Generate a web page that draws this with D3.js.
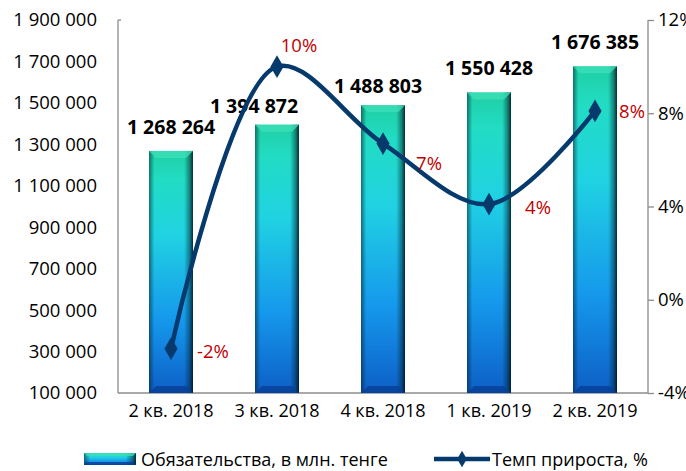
<!DOCTYPE html>
<html><head><meta charset="utf-8">
<script src="https://cdn.jsdelivr.net/npm/d3@7"></script>
<style>
html,body{margin:0;padding:0;background:#fff;}
svg{display:block;font-family:"Open Sans",sans-serif;}
</style></head>
<body>
<svg id="chart" width="686" height="471"></svg>
<script>
// ---- data ----
const categories = ["2 кв. 2018", "3 кв. 2018", "4 кв. 2018", "1 кв. 2019", "2 кв. 2019"];
const liabilities = [1268264, 1394872, 1488803, 1550428, 1676385];
const growthRate = [-2.1, 10.0, 6.7, 4.1, 8.1]; // %
const leftTicks = [100000, 300000, 500000, 700000, 900000, 1100000, 1300000, 1500000, 1700000, 1900000];
const rightTicks = [-4, 0, 4, 8, 12];
const seriesNames = ["Обязательства, в млн. тенге", "Темп прироста, %"];

// ---- layout (not data) ----
const M = {left: 118, right: 648, top: 20, bottom: 393};
const barLabelShift = [[0, -17], [-23, -12], [-5, -12], [0, -17.5], [0, -17]];
const pctLabelShift = [[42, 1.5], [22, -22], [46, 19], [49, 2.5], [37, 0]];

const svg = d3.select("#chart");
const loc = d3.formatLocale({decimal: ",", thousands: " ", grouping: [3], currency: ["", ""], minus: "-"});
const fmtNum = loc.format(",d");
const fmtPct = v => loc.format(".0f")(v) + "%";

const x = d3.scaleBand().domain(categories).range([M.left, M.right]).paddingInner(0.585).paddingOuter(0.2925);
const yL = d3.scaleLinear().domain([100000, 1900000]).range([M.bottom, M.top]);
const yR = d3.scaleLinear().domain([-4, 12]).range([M.bottom, M.top]);

// gradients
const defs = svg.append("defs");
const gV = defs.append("linearGradient").attr("id", "gV").attr("x1", 0).attr("y1", 0).attr("x2", 0).attr("y2", 1);
[[0, "#1ecfa4"], [0.12, "#22dcc4"], [0.35, "#20d2e2"], [0.7, "#1598ec"], [1, "#0d5fc6"]].forEach(s =>
  gV.append("stop").attr("offset", s[0]).attr("stop-color", s[1]));
const gH = defs.append("linearGradient").attr("id", "gH").attr("x1", 0).attr("y1", 0).attr("x2", 1).attr("y2", 0);
[[0, "#00202a", 0.55], [0.12, "#00202a", 0.0], [0.8, "#00202a", 0.0], [0.92, "#00202a", 0.45], [1, "#001018", 0.85]].forEach(s =>
  gH.append("stop").attr("offset", s[0]).attr("stop-color", s[1]).attr("stop-opacity", s[2]));

// axes lines
const axisColor = "#8c8c8c";
svg.append("line").attr("x1", M.left).attr("x2", M.left).attr("y1", M.top).attr("y2", M.bottom).attr("stroke", axisColor).attr("stroke-width", 1.3);
svg.append("line").attr("x1", M.left).attr("x2", M.left + 3).attr("y1", M.top).attr("y2", M.top).attr("stroke", axisColor).attr("stroke-width", 1.3);
svg.append("line").attr("x1", M.left).attr("x2", M.right).attr("y1", M.bottom).attr("y2", M.bottom).attr("stroke", axisColor).attr("stroke-width", 1.3);

// left axis labels
const leftAxis = d3.axisLeft(yL).tickValues(leftTicks).tickFormat(fmtNum).tickSize(0).tickPadding(21);
const gl = svg.append("g").attr("transform", `translate(${M.left},0)`).call(leftAxis);
gl.select(".domain").remove();
gl.selectAll("text").attr("font-size", 18.5).attr("fill", "#000").attr("font-family", "Open Sans");

// right axis
const rightAxis = d3.axisRight(yR).tickValues(rightTicks).tickFormat(d => fmtPct(d)).tickSize(6).tickPadding(4);
const gr = svg.append("g").attr("transform", `translate(${M.right},0)`).call(rightAxis);
gr.select(".domain").attr("stroke", axisColor).attr("stroke-width", 1.3).attr("d", `M0,${M.top}V${M.bottom}`);
gr.selectAll("line").attr("stroke", axisColor).attr("stroke-width", 1.3);
gr.selectAll("text").attr("font-size", 18.5).attr("fill", "#000").attr("font-family", "Open Sans");

// x axis labels
const xAxis = d3.axisBottom(x).tickSize(0).tickPadding(11);
const gx = svg.append("g").attr("transform", `translate(0,${M.bottom})`).call(xAxis);
gx.select(".domain").remove();
gx.selectAll("text").attr("font-size", 18).attr("fill", "#000").attr("font-family", "Open Sans");

// bars
function drawBar(g, bx, by, bw, bh, bev) {
  g.append("rect").attr("x", bx).attr("y", by).attr("width", bw).attr("height", bh).attr("fill", "url(#gV)");
  g.append("rect").attr("x", bx).attr("y", by).attr("width", bw).attr("height", bh).attr("fill", "url(#gH)");
  g.append("polygon").attr("points", [[bx, by], [bx + bw, by], [bx + bw - bev, by + bev], [bx + bev, by + bev]].map(p => p.join(",")).join(" "))
    .attr("fill", "#3fe0b8").attr("opacity", 0.75);
  g.append("polygon").attr("points", [[bx, by + bh], [bx + bw, by + bh], [bx + bw - bev, by + bh - bev], [bx + bev, by + bh - bev]].map(p => p.join(",")).join(" "))
    .attr("fill", "#083f96").attr("opacity", 0.8);
}
const barsG = svg.append("g");
liabilities.forEach((v, i) => {
  const bx = x(categories[i]), by = yL(v), bw = x.bandwidth(), bh = yL(100000) - yL(v);
  drawBar(barsG.append("g"), bx, by, bw, bh, 7);
});

// bar value labels
svg.append("g").selectAll("text").data(liabilities).join("text")
  .attr("x", (d, i) => x(categories[i]) + x.bandwidth() / 2 + barLabelShift[i][0])
  .attr("y", (d, i) => yL(d) + barLabelShift[i][1])
  .attr("text-anchor", "middle").attr("font-size", 19.5).attr("font-weight", "bold").attr("fill", "#000")
  .text(d => fmtNum(d));

// growth line
const lineColor = "#073a6c";
const px = i => x(categories[i]) + x.bandwidth() / 2;
const line = d3.line().x((d, i) => px(i)).y(d => yR(d)).curve(d3.curveCatmullRom.alpha(0.5));
svg.append("path").datum(growthRate).attr("d", line).attr("fill", "none").attr("stroke", lineColor).attr("stroke-width", 4.5);
const diamond = d3.symbol().type(d3.symbolDiamond).size(150);
svg.append("g").selectAll("path").data(growthRate).join("path")
  .attr("d", diamond).attr("transform", (d, i) => `translate(${px(i)},${yR(d)})`).attr("fill", lineColor);

// pct labels
svg.append("g").selectAll("text").data(growthRate).join("text")
  .attr("x", (d, i) => px(i) + pctLabelShift[i][0])
  .attr("y", (d, i) => yR(d) + pctLabelShift[i][1])
  .attr("text-anchor", "middle").attr("dominant-baseline", "central")
  .attr("font-size", 18.5).attr("fill", "#c00000")
  .text(d => fmtPct(d));

// legend
const lg = svg.append("g");
const ly = 459;
drawBar(lg, 84, ly - 6, 52, 12, 3);
lg.append("text").attr("x", 141).attr("y", ly).attr("dominant-baseline", "central").attr("font-size", 18).text(seriesNames[0]);
lg.append("line").attr("x1", 434).attr("x2", 490).attr("y1", ly).attr("y2", ly).attr("stroke", lineColor).attr("stroke-width", 4.5);
lg.append("path").attr("d", d3.symbol().type(d3.symbolDiamond).size(80)).attr("transform", `translate(462,${ly})`).attr("fill", lineColor);
lg.append("text").attr("x", 492).attr("y", ly).attr("dominant-baseline", "central").attr("font-size", 18).text(seriesNames[1]);
</script>
</body></html>
